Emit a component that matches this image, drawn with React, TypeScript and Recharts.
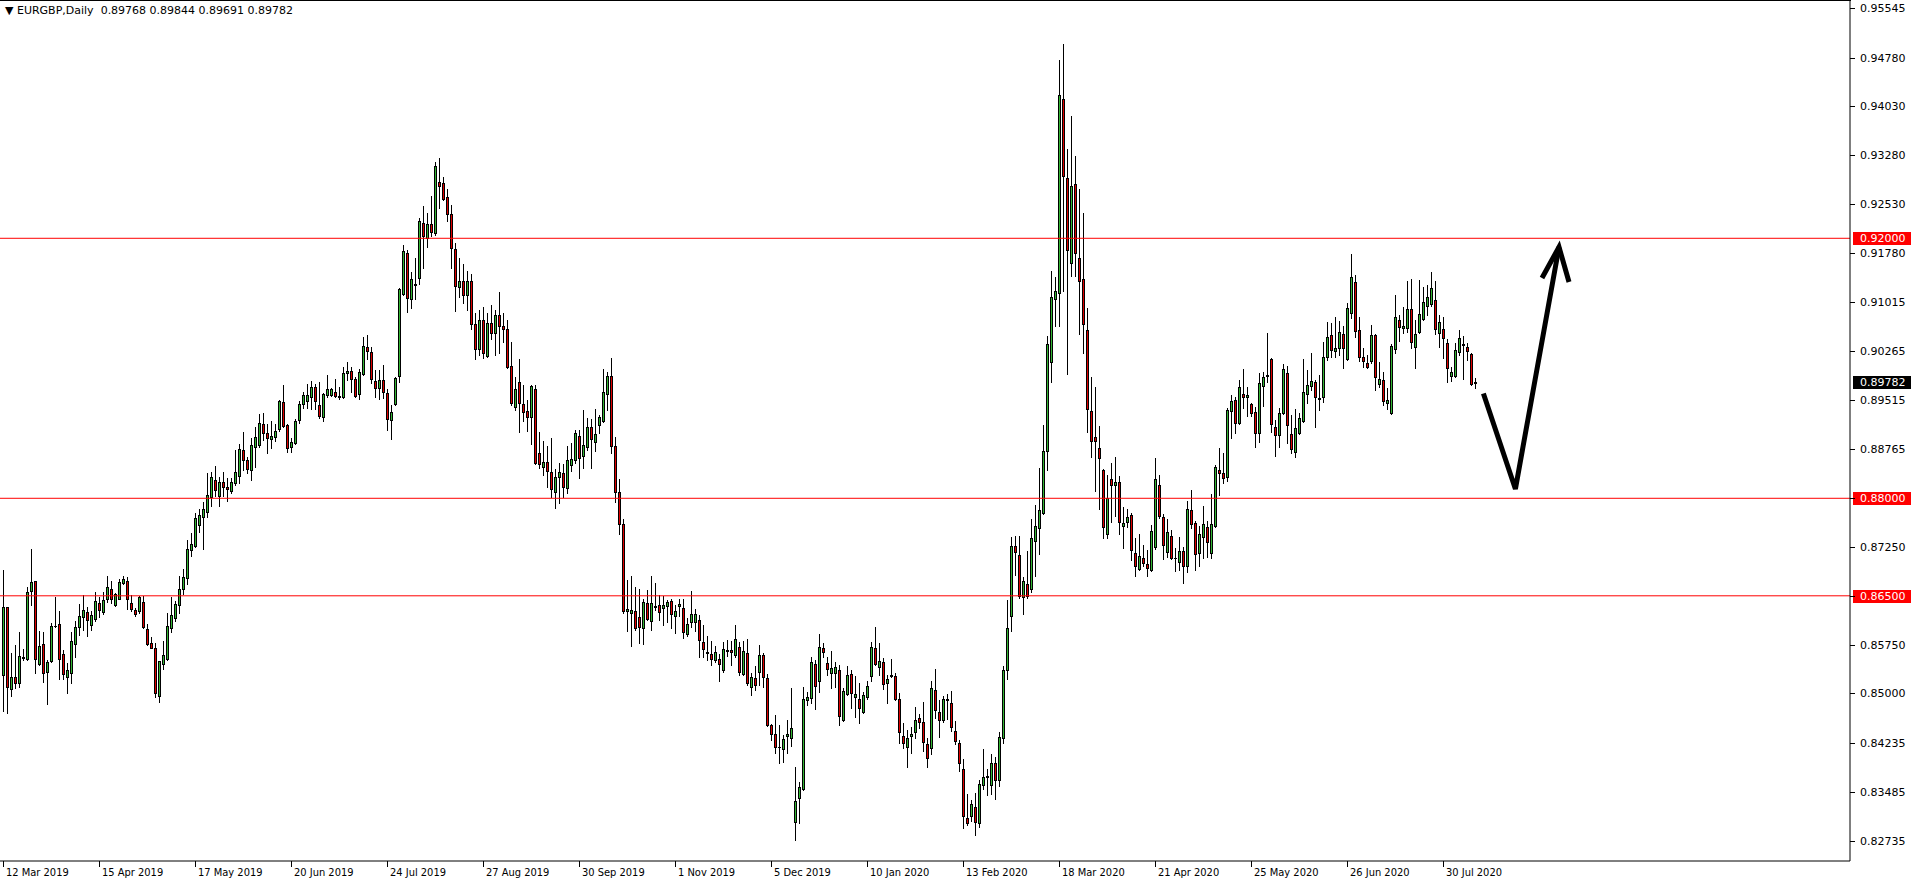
import React from 'react';
import { ComposedChart, Bar, Line, XAxis, YAxis, ReferenceLine } from 'recharts';

const OPEN = [
  0.85281,0.86322,0.85060,0.85245,0.85152,0.85558,0.85522,0.86568,0.86722,0.85455,
  0.85753,0.85322,0.85491,0.86030,0.86061,0.85599,0.85255,0.85306,0.85753,0.86014,
  0.86178,0.86245,0.86045,0.86137,0.86384,0.86245,0.86445,0.86604,0.86363,0.86455,
  0.86691,0.86722,0.86384,0.86281,0.86271,0.86404,0.85988,0.85768,0.85696,0.84958,
  0.85444,0.85521,0.85998,0.86152,0.86352,0.86598,0.86767,0.87203,0.87270,0.87583,
  0.87706,0.87793,0.88014,0.88276,0.88040,0.88245,0.88168,0.88117,0.88229,0.88342,
  0.88737,0.88583,0.88429,0.88789,0.88814,0.89137,0.88999,0.88917,0.88937,0.89060,
  0.89481,0.89127,0.88794,0.88855,0.89205,0.89445,0.89502,0.89552,0.89706,0.89429,
  0.89244,0.89593,0.89582,0.89629,0.89567,0.89562,0.89921,0.89957,0.89839,0.89598,
  0.89911,0.90326,0.90249,0.89803,0.89700,0.89818,0.89613,0.89198,0.89444,0.89885,
  0.91137,0.91768,0.91060,0.91291,0.91394,0.92230,0.91999,0.92219,0.92076,0.92860,
  0.92845,0.92630,0.92368,0.91830,0.91245,0.91350,0.91120,0.91350,0.90680,0.90300,
  0.90750,0.90195,0.90700,0.90550,0.90820,0.90650,0.90600,0.90036,0.89400,0.89795,
  0.89451,0.89348,0.89256,0.89677,0.88702,0.88487,0.88553,0.88399,0.88102,0.88322,
  0.88384,0.88164,0.88512,0.88589,0.88958,0.88656,0.88794,0.89102,0.88861,0.89128,
  0.89194,0.89600,0.89880,0.88800,0.88100,0.87600,0.86271,0.86230,0.86266,0.86168,
  0.85999,0.86384,0.86117,0.86333,0.86358,0.86307,0.86348,0.86420,0.86194,0.86348,
  0.86307,0.85907,0.86092,0.86102,0.86127,0.85784,0.85635,0.85604,0.85512,0.85527,
  0.85358,0.85666,0.85666,0.85589,0.85712,0.85296,0.85620,0.85101,0.85235,0.85332,
  0.85589,0.85230,0.84512,0.84368,0.84173,0.84138,0.84343,0.84307,0.83024,0.83383,
  0.83527,0.84897,0.84933,0.85451,0.85194,0.85692,0.85461,0.85307,0.85317,0.85359,
  0.84589,0.84984,0.85297,0.84948,0.84907,0.84717,0.84948,0.85271,0.85692,0.85410,
  0.85477,0.85153,0.85266,0.85271,0.84907,0.84348,0.84168,0.84340,0.84404,0.84618,
  0.84563,0.84221,0.84166,0.85055,0.84706,0.84587,0.84896,0.84849,0.84420,0.84229,
  0.83832,0.83078,0.83117,0.83252,0.82998,0.83594,0.83705,0.83594,0.83927,0.83665,
  0.84309,0.85357,0.86191,0.87263,0.87128,0.86485,0.86683,0.86612,0.87342,0.87541,
  0.87779,0.88732,0.90094,0.91073,0.91166,0.94144,0.92924,0.91617,0.92831,0.91699,
  0.91369,0.90589,0.89336,0.88941,0.88776,0.88435,0.87446,0.88298,0.88199,0.88248,
  0.87567,0.87638,0.87743,0.87155,0.86907,0.87083,0.86990,0.86891,0.87254,0.88199,
  0.87715,0.87171,0.87419,0.87089,0.87017,0.87182,0.86951,0.87814,0.87622,0.87155,
  0.87409,0.87552,0.87152,0.87573,0.88430,0.88384,0.88322,0.89343,0.89512,0.89153,
  0.89604,0.89553,0.89445,0.89322,0.88999,0.89727,0.89881,0.90138,0.89091,0.88973,
  0.89307,0.89922,0.88984,0.88717,0.88999,0.89189,0.89599,0.89727,0.89784,0.89548,
  0.89563,0.90169,0.90512,0.90271,0.90307,0.90528,0.90138,0.90845,0.91322,0.90589,
  0.90168,0.90086,0.90117,0.90512,0.89753,0.89819,0.89471,0.89317,0.90291,0.90743,
  0.90615,0.90615,0.90912,0.90332,0.90553,0.90758,0.90958,0.90984,0.91051,0.90538,
  0.90604,0.90384,0.89886,0.89881,0.90245,0.90353,0.90322,0.90220,0.89768,
];

const HIGH = [
  0.86900,0.86332,0.85614,0.85737,0.85937,0.85681,0.86640,0.87220,0.86732,0.85963,
  0.85937,0.85511,0.86076,0.86486,0.86271,0.85665,0.85460,0.85937,0.86112,0.86368,
  0.86512,0.86332,0.86271,0.86563,0.86486,0.86563,0.86804,0.86732,0.86548,0.86753,
  0.86804,0.86784,0.86512,0.86307,0.86491,0.86491,0.86066,0.85871,0.85768,0.85501,
  0.85803,0.86229,0.86486,0.86419,0.86803,0.86911,0.87357,0.87460,0.87768,0.87829,
  0.87947,0.88383,0.88409,0.88496,0.88332,0.88404,0.88311,0.88306,0.88743,0.88830,
  0.89014,0.88640,0.88922,0.89091,0.89296,0.89307,0.89143,0.89189,0.89137,0.89512,
  0.89743,0.89143,0.88932,0.89214,0.89502,0.89640,0.89758,0.89803,0.89757,0.89783,
  0.89613,0.89890,0.89700,0.89829,0.89716,0.90013,0.90095,0.90023,0.89870,0.89988,
  0.90475,0.90511,0.90331,0.89972,0.89972,0.90049,0.89680,0.89434,0.89870,0.91229,
  0.91896,0.91819,0.91486,0.91701,0.92306,0.92496,0.92383,0.92650,0.93168,0.93230,
  0.92937,0.92753,0.92512,0.91932,0.91691,0.91600,0.91500,0.91450,0.90850,0.90900,
  0.90950,0.90850,0.90980,0.90900,0.91180,0.90850,0.90750,0.90400,0.89861,0.90138,
  0.89743,0.89512,0.89738,0.89743,0.89025,0.88887,0.88805,0.88928,0.88451,0.88538,
  0.88522,0.88805,0.88846,0.89051,0.89051,0.89359,0.89230,0.89215,0.89369,0.89282,
  0.89990,0.89938,0.90160,0.88950,0.88300,0.87680,0.86743,0.86800,0.86640,0.86605,
  0.86451,0.86589,0.86800,0.86692,0.86512,0.86497,0.86435,0.86451,0.86358,0.86451,
  0.86451,0.86163,0.86574,0.86292,0.86204,0.86050,0.85881,0.85804,0.85732,0.85604,
  0.85794,0.85820,0.85804,0.86050,0.85794,0.85804,0.85835,0.85307,0.85420,0.85743,
  0.85625,0.85292,0.84528,0.84666,0.84512,0.84358,0.84589,0.85076,0.83871,0.83630,
  0.85092,0.85025,0.85564,0.85512,0.85913,0.85769,0.85564,0.85651,0.85487,0.85435,
  0.85076,0.85420,0.85359,0.85266,0.85153,0.85025,0.85194,0.85795,0.86026,0.85769,
  0.85538,0.85282,0.85523,0.85307,0.84999,0.84548,0.84435,0.84488,0.84785,0.84674,
  0.84865,0.84309,0.85182,0.85381,0.84896,0.84960,0.84984,0.85039,0.84579,0.84285,
  0.83991,0.83451,0.83355,0.83467,0.83673,0.84150,0.83832,0.84070,0.84023,0.84404,
  0.85421,0.86429,0.87406,0.87422,0.87422,0.86787,0.87184,0.87676,0.87898,0.88470,
  0.89129,0.90503,0.91496,0.91402,0.94738,0.94985,0.93375,0.93886,0.93265,0.92760,
  0.92391,0.90930,0.89864,0.89710,0.89116,0.88457,0.88353,0.88545,0.88638,0.88347,
  0.87869,0.87831,0.87776,0.87391,0.87457,0.87281,0.87210,0.87583,0.88627,0.88364,
  0.87759,0.87688,0.87512,0.87237,0.87402,0.87254,0.87952,0.88127,0.87649,0.87567,
  0.87881,0.87650,0.88060,0.88512,0.88768,0.88691,0.89394,0.89589,0.89553,0.89820,
  0.89989,0.89707,0.89471,0.89409,0.89922,0.89948,0.90548,0.90153,0.89204,0.89384,
  0.90061,0.90035,0.89281,0.89374,0.89307,0.90138,0.89974,0.90230,0.89820,0.89897,
  0.90410,0.90718,0.90692,0.90784,0.90733,0.90651,0.91000,0.91758,0.91435,0.90784,
  0.90307,0.90204,0.90666,0.90522,0.90102,0.89948,0.89691,0.90373,0.91127,0.90820,
  0.90948,0.91343,0.91374,0.90743,0.91358,0.91256,0.91281,0.91476,0.91348,0.90820,
  0.90784,0.90450,0.90015,0.90384,0.90589,0.90502,0.90384,0.90230,0.89844,
];

const LOW = [
  0.84732,0.84701,0.84963,0.85075,0.85091,0.85511,0.85511,0.86353,0.85317,0.85429,
  0.85178,0.84829,0.85481,0.86014,0.85214,0.85214,0.85009,0.85163,0.85552,0.85896,
  0.85973,0.85886,0.85973,0.86112,0.86168,0.86214,0.86409,0.86394,0.86342,0.86445,
  0.86681,0.86291,0.86271,0.86194,0.86230,0.86004,0.85737,0.85696,0.84947,0.84870,
  0.85367,0.85511,0.85947,0.86116,0.86229,0.86521,0.86675,0.87116,0.87255,0.87475,
  0.87224,0.87706,0.87886,0.88034,0.87886,0.88034,0.87962,0.88076,0.88204,0.88229,
  0.88435,0.88393,0.88281,0.88486,0.88783,0.88896,0.88701,0.88768,0.88886,0.89040,
  0.89091,0.88717,0.88717,0.88835,0.89153,0.89394,0.89394,0.89367,0.89367,0.89229,
  0.89193,0.89562,0.89572,0.89552,0.89521,0.89536,0.89818,0.89639,0.89562,0.89521,
  0.89890,0.90136,0.89778,0.89552,0.89531,0.89536,0.89049,0.88905,0.89434,0.89783,
  0.91127,0.90870,0.90932,0.91060,0.91291,0.91547,0.91860,0.92035,0.92050,0.92460,
  0.92589,0.92271,0.91537,0.90885,0.91101,0.91000,0.90900,0.90600,0.90150,0.90200,
  0.90154,0.90170,0.90450,0.90200,0.90240,0.90400,0.90010,0.89436,0.89359,0.89025,
  0.89194,0.89041,0.88835,0.88528,0.88461,0.88358,0.88179,0.88025,0.87855,0.87923,
  0.88015,0.88087,0.88425,0.88538,0.88307,0.88461,0.88743,0.88461,0.88733,0.88999,
  0.89179,0.89359,0.88700,0.87950,0.87450,0.86240,0.85963,0.85732,0.85974,0.85768,
  0.85753,0.86127,0.85974,0.86281,0.86127,0.86050,0.86102,0.85999,0.85932,0.86189,
  0.85845,0.85886,0.86025,0.85963,0.85563,0.85563,0.85512,0.85435,0.85486,0.85194,
  0.85332,0.85573,0.85435,0.85563,0.85281,0.85281,0.85127,0.84973,0.85050,0.85127,
  0.85102,0.84502,0.84281,0.84086,0.83922,0.83948,0.84086,0.84189,0.82742,0.82999,
  0.83512,0.84820,0.84856,0.84753,0.85025,0.85564,0.85282,0.85076,0.85102,0.84512,
  0.84579,0.84974,0.84769,0.84640,0.84538,0.84702,0.84907,0.85194,0.85436,0.85282,
  0.85066,0.84856,0.85256,0.84897,0.84230,0.84153,0.83861,0.84087,0.84309,0.84468,
  0.84110,0.83864,0.84062,0.84626,0.84325,0.84563,0.84603,0.84420,0.84221,0.83808,
  0.82935,0.82974,0.83030,0.82816,0.82950,0.83530,0.83435,0.83451,0.83371,0.83570,
  0.84229,0.85214,0.85953,0.86826,0.86469,0.86215,0.86469,0.86564,0.86802,0.87144,
  0.87763,0.88438,0.89792,0.90644,0.90655,0.91194,0.89918,0.91413,0.91424,0.90534,
  0.90232,0.89023,0.88638,0.88105,0.87842,0.87391,0.87386,0.87633,0.87732,0.87446,
  0.87237,0.87556,0.87045,0.86797,0.86891,0.86962,0.86808,0.86880,0.87226,0.87704,
  0.87073,0.87100,0.87073,0.86880,0.86897,0.86698,0.86864,0.87539,0.86897,0.86962,
  0.87076,0.87101,0.87076,0.87563,0.88050,0.88240,0.88271,0.88932,0.89009,0.89143,
  0.89384,0.89271,0.89266,0.88794,0.88871,0.89415,0.89794,0.89014,0.88650,0.88784,
  0.89297,0.88845,0.88691,0.88630,0.88989,0.89179,0.89471,0.89666,0.89102,0.89358,
  0.89486,0.90128,0.90179,0.90179,0.90205,0.90000,0.90128,0.90768,0.90486,0.90117,
  0.90025,0.89999,0.90076,0.89666,0.89717,0.89435,0.89368,0.89296,0.90240,0.90425,
  0.90548,0.90563,0.90307,0.89999,0.90538,0.90743,0.90820,0.90958,0.90527,0.90333,
  0.90153,0.89794,0.89804,0.89871,0.90204,0.89830,0.90127,0.89743,0.89691,
];

const CLOSE = [
  0.86322,0.85091,0.85245,0.85152,0.85573,0.85542,0.86558,0.86707,0.85522,0.85727,
  0.85317,0.85475,0.86035,0.86040,0.85532,0.85291,0.85352,0.85799,0.86014,0.86183,
  0.86276,0.86122,0.86199,0.86425,0.86276,0.86430,0.86630,0.86445,0.86527,0.86707,
  0.86753,0.86445,0.86301,0.86219,0.86481,0.86014,0.85763,0.85701,0.84999,0.85491,
  0.85588,0.86034,0.86198,0.86367,0.86598,0.86793,0.87214,0.87290,0.87691,0.87737,
  0.87829,0.88050,0.88322,0.88122,0.88245,0.88178,0.88137,0.88245,0.88399,0.88758,
  0.88583,0.88455,0.88814,0.88937,0.89153,0.88999,0.88932,0.88958,0.89035,0.89496,
  0.89112,0.88768,0.88866,0.89189,0.89450,0.89589,0.89584,0.89706,0.89501,0.89270,
  0.89598,0.89675,0.89675,0.89572,0.89562,0.89921,0.89957,0.89829,0.89577,0.89937,
  0.90336,0.90270,0.89839,0.89700,0.89818,0.89629,0.89213,0.89331,0.89844,0.91214,
  0.91804,0.91075,0.91368,0.91281,0.92265,0.92040,0.92219,0.92101,0.93112,0.92809,
  0.92609,0.92368,0.91855,0.91270,0.91347,0.91120,0.91350,0.90680,0.90300,0.90750,
  0.90241,0.90700,0.90550,0.90820,0.90650,0.90600,0.90026,0.89471,0.89677,0.89461,
  0.89333,0.89256,0.89728,0.88548,0.88522,0.88553,0.88425,0.88138,0.88322,0.88399,
  0.88179,0.88589,0.88605,0.88999,0.88615,0.88820,0.89092,0.88907,0.88984,0.89256,
  0.89631,0.89882,0.88800,0.88100,0.87600,0.86271,0.86292,0.86281,0.85999,0.86015,
  0.86399,0.86143,0.86384,0.86343,0.86256,0.86358,0.86399,0.86215,0.86266,0.86369,
  0.85938,0.86066,0.86220,0.86220,0.85820,0.85681,0.85614,0.85527,0.85635,0.85455,
  0.85681,0.85656,0.85640,0.85835,0.85332,0.85650,0.85153,0.85250,0.85127,0.85589,
  0.85256,0.84512,0.84368,0.84168,0.84168,0.84292,0.84368,0.84461,0.83343,0.83553,
  0.84907,0.84948,0.85477,0.85112,0.85707,0.85630,0.85369,0.85384,0.85410,0.84656,
  0.85035,0.85282,0.85010,0.84984,0.84769,0.84974,0.85112,0.85707,0.85446,0.85497,
  0.85138,0.85215,0.85277,0.84912,0.84410,0.84230,0.84307,0.84380,0.84595,0.84563,
  0.84245,0.84007,0.85079,0.84745,0.84587,0.84912,0.84912,0.84484,0.84261,0.83927,
  0.83109,0.82998,0.83292,0.83014,0.83610,0.83705,0.83721,0.83927,0.83673,0.84325,
  0.85357,0.86008,0.87263,0.87168,0.86493,0.86731,0.86493,0.87382,0.87581,0.87819,
  0.88732,0.90376,0.91095,0.91183,0.94199,0.92952,0.91826,0.92804,0.91771,0.91347,
  0.90688,0.89369,0.88875,0.88875,0.88627,0.87556,0.88006,0.88199,0.88248,0.87638,
  0.87622,0.87710,0.87210,0.86962,0.87111,0.87001,0.86924,0.87495,0.88298,0.87732,
  0.87276,0.87479,0.87089,0.87083,0.87182,0.86951,0.87831,0.87611,0.87138,0.87457,
  0.87599,0.87332,0.87599,0.88476,0.88394,0.88317,0.89358,0.89497,0.89153,0.89707,
  0.89563,0.89584,0.89317,0.88999,0.89768,0.89871,0.89892,0.89138,0.88973,0.89317,
  0.89984,0.89127,0.88758,0.89076,0.89230,0.89640,0.89743,0.89804,0.89563,0.89522,
  0.90179,0.90487,0.90282,0.90307,0.90564,0.90307,0.90923,0.91399,0.90573,0.90168,
  0.90117,0.90025,0.90512,0.89860,0.89830,0.89501,0.89512,0.90343,0.90784,0.90630,
  0.90650,0.90912,0.90399,0.90522,0.90835,0.91015,0.91092,0.91230,0.90599,0.90707,
  0.90461,0.89999,0.89937,0.90281,0.90461,0.90369,0.90271,0.89758,0.89782,
];

const DATE_LABELS = [
  '12 Mar 2019', '15 Apr 2019', '17 May 2019', '20 Jun 2019', '24 Jul 2019', '27 Aug 2019',
  '30 Sep 2019', '1 Nov 2019', '5 Dec 2019', '10 Jan 2020', '13 Feb 2020', '18 Mar 2020',
  '21 Apr 2020', '25 May 2020', '26 Jun 2020', '30 Jul 2020',
];
const DATE_STEP = 24;

const PRICE_TICKS = [
  0.95545, 0.9478, 0.9403, 0.9328, 0.9253, 0.9178, 0.91015, 0.90265, 0.89515,
  0.88765, 0.88, 0.8725, 0.865, 0.8575, 0.85, 0.84235, 0.83485, 0.82735,
];

const LEVELS = [0.92, 0.88, 0.865];
const LAST_PRICE = 0.89782;
const TITLE = '\u25BC EURGBP,Daily  0.89768 0.89844 0.89691 0.89782';

const ARROW_STEM = [
  { i: 370.1, p: 0.89612 },
  { i: 378.1, p: 0.88143 },
  { i: 389.0, p: 0.91866 },
];
const ARROW_HEAD = [
  { i: 384.75, p: 0.91389 },
  { i: 389.0, p: 0.91866 },
  { i: 391.5, p: 0.91328 },
];

const GREEN = '#33b533';
const RED = '#dd0000';
const FONT = "'DejaVu Sans', sans-serif";
const W = 1916;
const H = 884;
const PLOT_R = 1850;
const PLOT_B = 861;

const data = OPEN.map((o, i) => ({
  i,
  o,
  h: HIGH[i],
  l: LOW[i],
  c: CLOSE[i],
  range: [LOW[i], HIGH[i]],
}));

const Candle = (props: any) => {
  const { x, y, width, height, payload } = props;
  if (!payload || x == null) return null;
  const { o, h, l, c } = payload;
  const top = Math.min(y, y + height);
  const bot = Math.max(y, y + height);
  const span = h - l;
  const py = (v: number) => (span > 0 ? top + ((h - v) / span) * (bot - top) : top);
  const cx = Math.round(x + width / 2);
  const up = c >= o;
  const bTop = Math.round(py(Math.max(o, c)));
  const bBot = Math.round(py(Math.min(o, c)));
  const wTop = Math.round(py(h));
  const wBot = Math.round(py(l));
  return (
    <g>
      <line x1={cx + 0.5} x2={cx + 0.5} y1={wTop} y2={wBot + 1} stroke="#000" strokeWidth={1} />
      {bBot - bTop >= 1 ? (
        <rect x={cx - 0.5} y={bTop + 0.5} width={2} height={bBot - bTop} fill={up ? GREEN : RED} stroke="#000" strokeWidth={1} />
      ) : (
        <line x1={cx - 1} x2={cx + 2} y1={bTop + 0.5} y2={bTop + 0.5} stroke="#000" strokeWidth={1} />
      )}
    </g>
  );
};

const XTick = (props: any) => {
  const { x, payload } = props;
  const k = Math.round(payload.value / DATE_STEP);
  const px = Math.round(x);
  return (
    <g>
      <line x1={px + 0.5} x2={px + 0.5} y1={PLOT_B} y2={PLOT_B + 6} stroke="#000" strokeWidth={1} />
      <text x={px + 3} y={PLOT_B + 15} fontSize={11} fontFamily="'DejaVu Sans Condensed', 'DejaVu Sans', sans-serif" style={{ fontStretch: 'condensed' }} fill="#000">
        {DATE_LABELS[k]}
      </text>
    </g>
  );
};

const YTick = (props: any) => {
  const { y, payload } = props;
  const py = Math.round(y) + 0.5;
  const hidden = LEVELS.some((v) => Math.abs(v - payload.value) < 1e-7);
  return (
    <g>
      <line x1={PLOT_R} x2={PLOT_R + 5} y1={py} y2={py} stroke="#000" strokeWidth={1} />
      {!hidden && (
        <text x={PLOT_R + 10} y={py} dy="0.35em" fontSize={11} fontFamily={FONT} fill="#000">
          {payload.value.toFixed(5)}
        </text>
      )}
    </g>
  );
};

const PriceTag = (props: any) => {
  const { viewBox, text, bg } = props;
  if (!viewBox) return null;
  const y = Math.round(viewBox.y);
  const x = viewBox.x + viewBox.width;
  return (
    <g>
      <rect x={x + 3} y={y - 6} width={58} height={13} fill={bg} />
      <text x={x + 10} y={y + 0.5} dy="0.35em" fontSize={11} fontFamily={FONT} fill="#fff">
        {text}
      </text>
    </g>
  );
};

export default function App() {
  return (
    <div style={{ position: 'absolute', left: 0, top: 0, width: W, height: H, background: '#fff', fontFamily: FONT }}>
      <ComposedChart width={W} height={H} data={data} margin={{ top: 0, right: 0, bottom: 0, left: 0 }}>
        <XAxis
          type="number"
          dataKey="i"
          domain={[-0.75, 461.75]}
          allowDataOverflow
          ticks={DATE_LABELS.map((_, k) => k * DATE_STEP)}
          interval={0}
          height={H - PLOT_B}
          axisLine={{ stroke: '#000', strokeWidth: 1 }}
          tickLine={false}
          tick={<XTick />}
        />
        <YAxis
          orientation="right"
          type="number"
          domain={[0.8242, 0.95666]}
          allowDataOverflow
          ticks={PRICE_TICKS}
          interval={0}
          width={W - PLOT_R}
          axisLine={{ stroke: '#000', strokeWidth: 1 }}
          tickLine={false}
          tick={<YTick />}
        />
        {LEVELS.map((v) => (
          <ReferenceLine
            key={v}
            y={v}
            stroke="#ff0000"
            strokeWidth={1}
            label={<PriceTag text={v.toFixed(5)} bg="#ff0000" />}
          />
        ))}
        <ReferenceLine y={LAST_PRICE} stroke="none" strokeOpacity={0} label={<PriceTag text={LAST_PRICE.toFixed(5)} bg="#000" />} />
        <Bar dataKey="range" barSize={3} shape={<Candle />} isAnimationActive={false} />
        <Line data={ARROW_STEM} dataKey="p" type="linear" stroke="#000" strokeWidth={5} dot={false} activeDot={false} strokeLinejoin="miter" strokeLinecap="butt" isAnimationActive={false} />
        <Line data={ARROW_HEAD} dataKey="p" type="linear" stroke="#000" strokeWidth={5} dot={false} activeDot={false} strokeLinejoin="miter" strokeLinecap="butt" isAnimationActive={false} />
      </ComposedChart>
      <div style={{ position: 'absolute', left: 0, top: 0, width: PLOT_R + 1, height: 1, background: '#000' }} />
      <div style={{ position: 'absolute', left: 5, top: 4, fontSize: 11, lineHeight: '13px', fontFamily: FONT, color: '#000', whiteSpace: 'pre' }}>
        {TITLE}
      </div>
    </div>
  );
}
